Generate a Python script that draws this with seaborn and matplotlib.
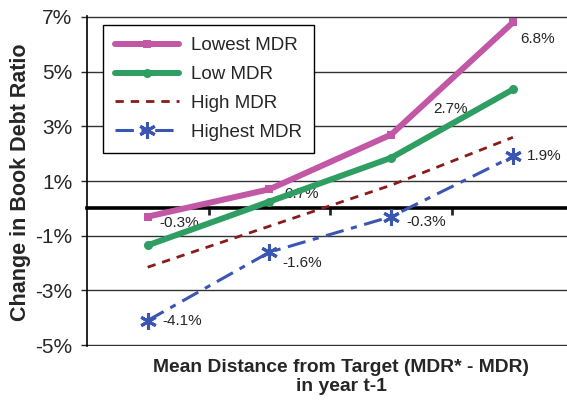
import numpy as np
import pandas as pd
import matplotlib
matplotlib.use('Agg')
import matplotlib.pyplot as plt
import seaborn as sns
from matplotlib.ticker import FuncFormatter

# data
groups = ['Q1', 'Q2', 'Q3', 'Q4']
lowest_mdr = [-0.3, 0.7, 2.7, 6.8]
low_mdr = [-1.35, 0.25, 1.85, 4.35]
high_mdr = [-2.15, -0.65, 0.85, 2.6]
highest_mdr = [-4.1, -1.6, -0.3, 1.9]
yticks = [-5, -3, -1, 1, 3, 5, 7]

sns.set_style('white')
plt.rcParams['font.family'] = ['Liberation Sans', 'DejaVu Sans']

fig = plt.figure(figsize=(5.67, 4.04), dpi=100)
ax = fig.add_axes([0.153, 0.1436, 0.859, 0.8164])

x = np.arange(len(groups))

sns.lineplot(x=x, y=lowest_mdr, ax=ax, color='#C257A5', lw=4.3, marker='s',
             markersize=6, markeredgewidth=0, label='Lowest MDR', zorder=5)
sns.lineplot(x=x, y=low_mdr, ax=ax, color='#2F9E63', lw=4.3, marker='o',
             markersize=6.5, markeredgewidth=0, label='Low MDR', zorder=5)
sns.lineplot(x=x, y=high_mdr, ax=ax, color='#8B1A1A', lw=2, label='High MDR',
             dashes=False, zorder=4)
sns.lineplot(x=x, y=highest_mdr, ax=ax, color='#3A56B2', lw=2.2,
             marker=(6, 2, 0), markersize=12, markeredgewidth=2.2,
             markeredgecolor='#3A56B2', label='Highest MDR', zorder=4)

lines = ax.get_lines()
lines[2].set_dashes([3, 2.5])
lines[3].set_dashes([6, 2.5, 2, 2.5])

# value labels (offsets in pixels)
low_off = [(32, -6), (32, -5), (59, 26), (25, -17)]
for i, v in enumerate(lowest_mdr):
    ax.annotate(f'{v:.1f}%', (x[i], v), xytext=low_off[i], textcoords='offset pixels',
                ha='center', va='center', fontsize=11)
hi_off = [(35, 0), (33, -11), (35, -5), (31, 0)]
for i, v in enumerate(highest_mdr):
    ax.annotate(f'{v:.1f}%', (x[i], v), xytext=hi_off[i], textcoords='offset pixels',
                ha='center', va='center', fontsize=11)

ax.set_xlim(-0.5, 3.5)
ax.set_ylim(-5.03, 7.03)
ax.set_yticks(yticks)
ax.yaxis.set_major_formatter(FuncFormatter(lambda v, p: f'{int(round(v))}%'))
ax.tick_params(axis='y', left=True, length=4.5, width=1, labelsize=15, pad=6)
ax.grid(axis='y', color='#333333', lw=1)
ax.set_axisbelow(True)

# zero line acts as x axis
ax.spines['bottom'].set_position(('data', 0))
ax.spines['bottom'].set_linewidth(2.6)
ax.spines['bottom'].set_color('black')
ax.set_xticks([0.5, 1.5, 2.5])
ax.set_xticklabels([])
ax.tick_params(axis='x', bottom=True, direction='out', length=5, width=2)
for s in ['top', 'right']:
    ax.spines[s].set_visible(False)
ax.spines['left'].set_color('black')
ax.spines['left'].set_linewidth(1.2)

fig.text(21 / 567, 1 - 182 / 404, 'Change in Book Debt Ratio', rotation=90,
         ha='center', va='center', fontsize=15.5, fontweight='bold')
fig.text(341 / 567, 1 - 377 / 404, 'Mean Distance from Target (MDR* - MDR)\nin year t-1',
         ha='center', va='center', fontsize=13.9, fontweight='bold', linespacing=1.1)

leg = ax.legend(loc='upper left', bbox_to_anchor=(0.033, 0.973), borderaxespad=0,
                fontsize=13.5, handlelength=3.4, labelspacing=0.62, handletextpad=0.65,
                fancybox=False, framealpha=1, edgecolor='black', borderpad=0.65)
leg.get_frame().set_linewidth(1)

fig.savefig('out.png', dpi=100)
